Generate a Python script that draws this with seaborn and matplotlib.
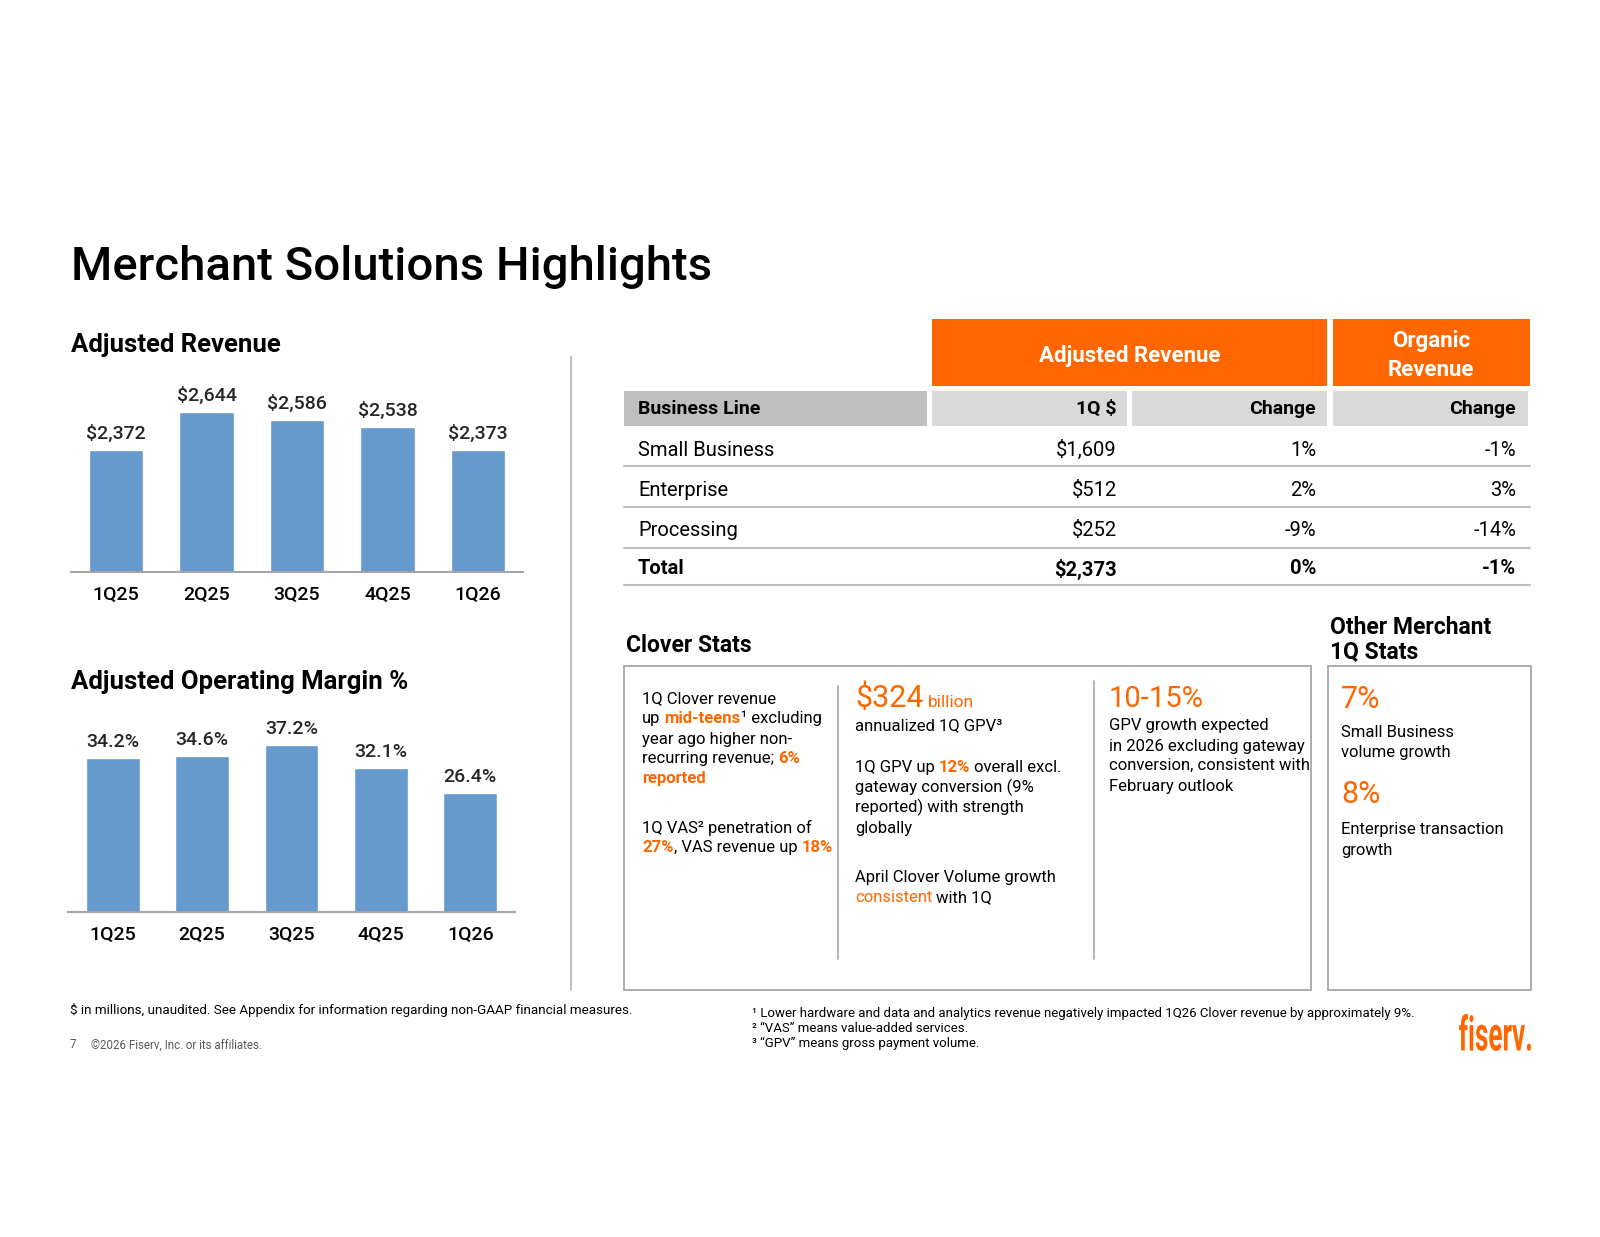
import matplotlib
matplotlib.use("Agg")
import matplotlib.pyplot as plt
import seaborn as sns
from matplotlib.patches import Rectangle, PathPatch
from matplotlib.lines import Line2D
from matplotlib.textpath import TextPath
from matplotlib.font_manager import FontProperties
from matplotlib.transforms import Affine2D, IdentityTransform

# chart data
quarters = ["1Q25", "2Q25", "3Q25", "4Q25", "1Q26"]
adj_revenue = [2372, 2644, 2586, 2538, 2373]
op_margin = [34.2, 34.6, 37.2, 32.1, 26.4]

# table data
business_lines = ["Small Business", "Enterprise", "Processing", "Total"]
q1_revenue = ["$1,609", "$512", "$252", "$2,373"]
adj_change = ["1%", "2%", "-9%", "0%"]
organic_change = ["-1%", "3%", "-14%", "-1%"]

ORANGE = "#FF6600"
BLUE = "#6699CC"
GRAY_LINE = "#BFBFBF"
BOX = "#A6A6A6"
FONT = "Roboto"
W, H = 1600, 1237

sns.set_theme(style="white")
plt.rcParams["font.family"] = [FONT, "DejaVu Sans"]

fig = plt.figure(figsize=(16, 12.37), dpi=100)
fig.patch.set_facecolor("white")
renderer = fig.canvas.get_renderer()


def px(x, y):
    return x / W, 1 - y / H


def txt(x, y, s, size, color="black", weight="normal", ha="left", va="center", **kw):
    fx, fy = px(x, y)
    return fig.text(fx, fy, s, fontsize=size, color=color, fontweight=weight,
                    ha=ha, va=va, **kw)


def text_width(s, size, weight):
    t1 = fig.text(0, 0, "H" + s + "H", fontsize=size, fontweight=weight)
    t2 = fig.text(0, 0, "HH", fontsize=size, fontweight=weight)
    w = t1.get_window_extent(renderer).width - t2.get_window_extent(renderer).width
    t1.remove()
    t2.remove()
    return w


def rich(x, y, parts, size=12):
    # parts: (text, color, weight, size) -> drawn one after another on a baseline
    for p in parts:
        s = p[0]
        color = p[1] if len(p) > 1 else "black"
        weight = p[2] if len(p) > 2 else "normal"
        sz = p[3] if len(p) > 3 else size
        lead = s[:len(s) - len(s.lstrip(" "))]
        x0 = x + (text_width(lead, sz, weight) if lead else 0)
        if s.strip():
            txt(x0, y, s.strip(), sz, color=color, weight=weight, va="baseline")
        x += text_width(s, sz, weight)


def line(x0, y0, x1, y1, color=GRAY_LINE, lw=1.5):
    fig.add_artist(Line2D([x0 / W, x1 / W], [1 - y0 / H, 1 - y1 / H],
                          color=color, lw=lw, transform=fig.transFigure))


def rect(x0, y0, x1, y1, face, edge="none", lw=0):
    fig.add_artist(Rectangle((x0 / W, 1 - y1 / H), (x1 - x0) / W, (y1 - y0) / H,
                             facecolor=face, edgecolor=edge, lw=lw,
                             transform=fig.transFigure))


# title
txt(71, 267, "Merchant Solutions Highlights", 34, weight="medium")

# --- Adjusted Revenue bars ---
txt(71, 345, "Adjusted Revenue", 18.5, weight="bold")
ax1 = fig.add_axes([71 / W, 1 - 572 / H, 452 / W, 192 / H])
sns.barplot(x=quarters, y=adj_revenue, ax=ax1, color=BLUE, width=0.6, saturation=1)
ax1.set_ylim(1500, 1500 + 192 / 0.1397)
ax1.bar_label(ax1.containers[0], labels=[f"${v:,}" for v in adj_revenue],
              padding=5, fontsize=14, fontweight="medium")

# --- Adjusted Operating Margin bars ---
txt(71, 682, "Adjusted Operating Margin %", 18.5, weight="bold")
ax2 = fig.add_axes([68 / W, 1 - 912 / H, 447 / W, 192 / H])
sns.barplot(x=quarters, y=op_margin, ax=ax2, color=BLUE, width=0.6, saturation=1)
ax2.set_ylim(0, 192 / 4.5)
ax2.bar_label(ax2.containers[0], labels=[f"{v:.1f}%" for v in op_margin],
              padding=5, fontsize=14, fontweight="medium")

for ax in (ax1, ax2):
    ax.set_xlim(-0.5, 4.5)
    ax.set_yticks([])
    ax.set_xlabel("")
    ax.set_ylabel("")
    ax.set_facecolor("none")
    for side in ("top", "left", "right"):
        ax.spines[side].set_visible(False)
    ax.spines["bottom"].set_color(BOX)
    ax.spines["bottom"].set_linewidth(1.5)
    ax.tick_params(axis="x", length=0, pad=10, labelsize=14, colors="black")
    for lab in ax.get_xticklabels():
        lab.set_fontweight("medium")

# vertical separator
line(571, 357, 571, 990)

# --- table ---
rect(932, 319, 1327, 386, ORANGE)
rect(1333, 319, 1530, 386, ORANGE)
txt(1130, 356, "Adjusted Revenue", 16, color="white", weight="bold", ha="center")
txt(1431, 341, "Organic", 16, color="white", weight="bold", ha="center")
txt(1431, 370, "Revenue", 16, color="white", weight="bold", ha="center")

rect(624, 391, 927, 426, "#BFBFBF")
rect(932, 391, 1127, 426, "#D9D9D9")
rect(1132, 391, 1327, 426, "#D9D9D9")
rect(1333, 391, 1528, 426, "#D9D9D9")
txt(638, 409, "Business Line", 14, weight="bold")
txt(1117, 409, "1Q $", 14, weight="bold", ha="right")
txt(1316, 409, "Change", 14, weight="bold", ha="right")
txt(1516, 409, "Change", 14, weight="bold", ha="right")

row_y = [450, 491, 531, 569]
line_y = [466, 507, 548, 585]
for i, name in enumerate(business_lines):
    wt = "bold" if name == "Total" else "normal"
    y = row_y[i]
    txt(638, y, name, 14.5, weight=wt)
    txt(1117, y, q1_revenue[i], 14.5, weight=wt, ha="right")
    txt(1316, y, adj_change[i], 14.5, weight=wt, ha="right")
    txt(1516, y, organic_change[i], 14.5, weight=wt, ha="right")
    line(624, line_y[i], 1530, line_y[i])

# --- Clover stats ---
txt(626, 645, "Clover Stats", 16.5, weight="bold")
rect(624, 666, 1311, 990, "none", edge=BOX, lw=1.3)
line(838, 686, 838, 959, color=BOX, lw=1.2)
line(1094, 681, 1094, 959, color=BOX, lw=1.2)

bs = 12
rich(642, 703, [("1Q Clover revenue",)], bs)
rich(642, 723, [("up ",), ("mid-teens", ORANGE, "bold"), ("¹ excluding",)], bs)
rich(642, 744, [("year ago higher non-",)], bs)
rich(642, 763, [("recurring revenue; ",), ("6%", ORANGE, "bold")], bs)
rich(642, 783, [("reported", ORANGE, "bold")], bs)
rich(642, 833, [("1Q VAS² penetration of",)], bs)
rich(642, 852, [("27%", ORANGE, "bold"), (", VAS revenue up ",), ("18%", ORANGE, "bold")], bs)

rich(855, 707, [("$324", ORANGE, "normal", 22), (" billion", ORANGE, "normal", 12.5)], bs)
rich(855, 730, [("annualized 1Q GPV³",)], bs)
rich(855, 772, [("1Q GPV up ",), ("12%", ORANGE, "bold"), (" overall excl.",)], bs)
rich(855, 792, [("gateway conversion (9%",)], bs)
rich(855, 812, [("reported) with strength",)], bs)
rich(855, 833, [("globally",)], bs)
rich(855, 882, [("April Clover Volume growth",)], bs)
rich(855, 902, [("consistent", ORANGE), (" with 1Q",)], bs)

rich(1109, 707, [("10-15%", ORANGE, "normal", 21)], bs)
rich(1109, 730, [("GPV growth expected",)], bs)
rich(1109, 751, [("in 2026 excluding gateway",)], bs)
rich(1109, 770, [("conversion, consistent with",)], bs)
rich(1109, 791, [("February outlook",)], bs)

# --- Other merchant stats ---
txt(1330, 628, "Other Merchant", 16.5, weight="bold")
txt(1330, 652, "1Q Stats", 16.5, weight="bold")
rect(1328, 666, 1531, 990, "none", edge=BOX, lw=1.3)
rich(1341, 708, [("7%", ORANGE, "normal", 22)], bs)
rich(1341, 737, [("Small Business",)], bs)
rich(1341, 757, [("volume growth",)], bs)
rich(1341, 803, [("8%", ORANGE, "normal", 22)], bs)
rich(1341, 834, [("Enterprise transaction",)], bs)
rich(1341, 855, [("growth",)], bs)

# --- footnotes ---
txt(70, 1010, "$ in millions, unaudited. See Appendix for information regarding non-GAAP financial measures.", 9.6)
txt(70, 1045, "7", 8.3, color="#595959")
txt(91, 1045, "©2026 Fiserv, Inc. or its affiliates.", 8.3, color="#595959")
txt(752, 1014, "¹ Lower hardware and data and analytics revenue negatively impacted 1Q26 Clover revenue by approximately 9%.", 9.5)
txt(752, 1028, "² “VAS” means value-added services.", 9.5)
txt(752, 1043, "³ “GPV” means gross payment volume.", 9.5)

# logo: condensed wordmark squeezed into its box
logo = TextPath((0, 0), "fiserv.", size=50, prop=FontProperties(family=FONT, weight="bold"))
ext = logo.get_extents()
lx0, lx1, ly0, ly1 = 1459, 1531, 1014, 1051
sx = (lx1 - lx0) / ext.width
sy = (ly1 - ly0) / ext.height
tr = Affine2D().translate(-ext.x0, -ext.y0).scale(sx, sy).translate(lx0, H - ly1)
fig.add_artist(PathPatch(logo, facecolor=ORANGE, edgecolor="none",
                         transform=tr + IdentityTransform()))

fig.savefig("out.png", dpi=100, facecolor="white")
